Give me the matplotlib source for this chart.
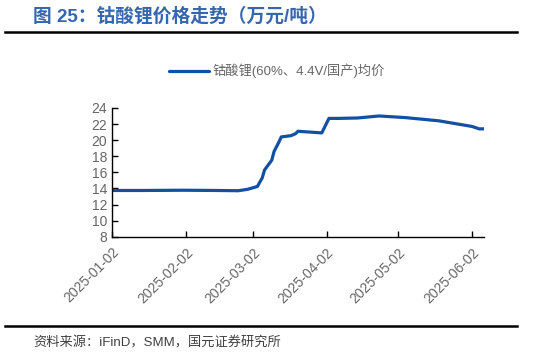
import pandas as pd
import matplotlib.pyplot as plt

plt.rcParams['font.family'] = ['Liberation Sans', 'Noto Sans CJK SC', 'DejaVu Sans']

# Price points (10k CNY / ton)
dates = ['2025-01-02', '2025-01-15', '2025-02-01', '2025-02-15', '2025-02-24',
         '2025-02-28', '2025-03-04', '2025-03-06', '2025-03-07', '2025-03-10',
         '2025-03-11', '2025-03-13', '2025-03-14', '2025-03-18', '2025-03-20',
         '2025-03-21', '2025-03-31', '2025-04-01', '2025-04-03', '2025-04-07',
         '2025-04-15', '2025-04-24', '2025-05-05', '2025-05-12', '2025-05-19',
         '2025-05-25', '2025-06-02', '2025-06-05', '2025-06-07']
prices = [13.75, 13.75, 13.78, 13.75, 13.72,
          13.9, 14.25, 15.3, 16.3, 17.5,
          18.6, 19.75, 20.4, 20.55, 20.8,
          21.1, 20.9, 21.5, 22.7, 22.7,
          22.75, 23.0, 22.8, 22.6, 22.4,
          22.1, 21.7, 21.4, 21.4]
tick_dates = ['2025-01-02', '2025-02-02', '2025-03-02',
              '2025-04-02', '2025-05-02', '2025-06-02']
series_label = '钴酸锂(60%、4.4V/国产)均价'

df = pd.DataFrame({'date': pd.to_datetime(dates), 'price': prices})

fig = plt.figure(figsize=(5.33, 3.55), dpi=100)
ax = fig.add_axes([0.210, 0.333, 0.698, 0.363])

ax.plot(df['date'], df['price'], color='#1150a2', lw=2.3,
        solid_capstyle='round', label=series_label)

ax.set_ylim(8, 24)
ax.set_yticks(range(8, 25, 2))
ax.set_xlim(pd.Timestamp('2025-01-02'), pd.Timestamp('2025-06-07'))
ticks = pd.to_datetime(tick_dates)
ax.set_xticks(ticks)
ax.set_xticklabels([t.strftime('%Y-%m-%d') for t in ticks],
                   rotation=45, ha='right', rotation_mode='anchor')

for s in ['top', 'right']:
    ax.spines[s].set_visible(False)
for s in ['left', 'bottom']:
    ax.spines[s].set_linewidth(1.0)
ax.tick_params(direction='in', length=4, width=1.0, labelsize=10,
               labelcolor='#666666')
ax.tick_params(axis='x', pad=6)

# Legend
fig.legend(loc='center', bbox_to_anchor=(0.52, 0.80), frameon=False,
           fontsize=9.5, labelcolor='#666666', handlelength=3.0,
           handletextpad=0.3)

# Title, rules and source
fig.text(0.062, 0.955, '图 25：钴酸锂价格走势（万元/吨）', fontsize=13.5,
         fontweight='bold', color='#3566b0', va='center')
fig.add_artist(plt.Line2D([0.01, 0.97], [0.91, 0.91], color='black', lw=1.8))
fig.add_artist(plt.Line2D([0.01, 0.97], [0.083, 0.083], color='black', lw=1.8))
fig.text(0.062, 0.035, '资料来源：iFinD，SMM，国元证券研究所', fontsize=9.5,
         color='#404040', va='center')

plt.savefig('out.png')
